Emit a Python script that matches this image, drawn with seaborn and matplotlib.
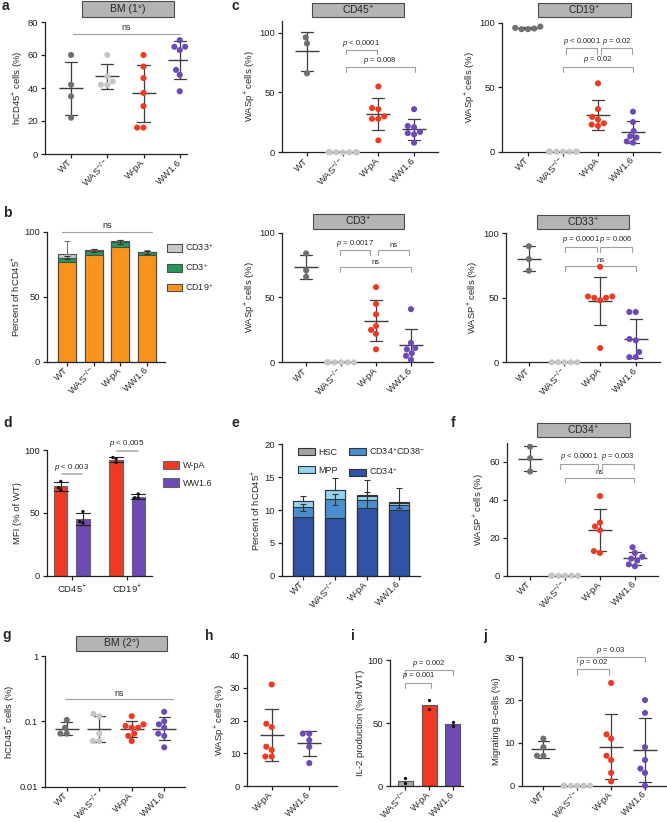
import warnings
import numpy as np
import pandas as pd
import matplotlib
matplotlib.use("Agg")
import matplotlib.pyplot as plt
from matplotlib.patches import Patch, Rectangle
from matplotlib.ticker import NullLocator
import seaborn as sns

warnings.filterwarnings("ignore")

W, H = 667, 822

# ---------------- data ----------------
groups = ["WT", "WAS", "W-pA", "WW1.6"]
group_ticks = ["WT", r"WAS$^{-/-}$", "W-pA", "WW1.6"]
palette = {"WT": "#6f6f6f", "WAS": "#c6c6c6", "W-pA": "#ee3a24", "WW1.6": "#6d4ab5"}

# a: hCD45+ cells in primary BM (%)
bm1 = {"WT": [60, 42, 35, 22],
       "WAS": [60, 47, 44, 42, 42],
       "W-pA": [60, 53, 46, 37, 29, 16, 16],
       "WW1.6": [69, 65, 65, 63, 51, 48, 38]}

# b: lineages, percent of hCD45+
lin_cd19 = [77, 82, 88, 82]
lin_cd3 = [3, 3.5, 4, 2]
lin_cd33 = [3, 0.6, 0.5, 0.6]
lin_err_up = [10, 0.8, 0.8, 1.5]
lin_err_mid = [1.2, 1.5, 1.3, 1.0]

# c: WASp+ cells (%) per subset
wasp_cd45 = {"WT": [96, 91, 66],
             "WAS": [0, 0, 0, 0, 0, 0, 0],
             "W-pA": [55, 37, 36, 30, 28, 28, 10],
             "WW1.6": [36, 22, 21, 17, 16, 15, 8]}
wasp_cd19 = {"WT": [97, 96, 95.5, 95, 95],
             "WAS": [0, 0, 0, 0, 0, 0, 0],
             "W-pA": [53, 33, 27, 25, 22, 21, 20],
             "WW1.6": [31, 23, 16, 12, 11, 8, 7]}
wasp_cd3 = {"WT": [84, 71, 66],
            "WAS": [0, 0, 0, 0, 0, 0],
            "W-pA": [58, 45, 37, 28, 25, 22, 10],
            "WW1.6": [41, 15, 11, 10, 7, 5, 2]}
wasp_cd33 = {"WT": [90, 80, 71],
             "WAS": [0, 0, 0, 0, 0],
             "W-pA": [74, 51, 50, 50, 51, 48, 11],
             "WW1.6": [39, 39, 18, 17, 8, 4, 4]}

# d: MFI (% of WT)
mfi_markers = ["CD45", "CD19"]
mfi_ticks = [r"CD45$^{+}$", r"CD19$^{+}$"]
mfi_wpa = {"CD45": [75, 68, 70], "CD19": [94, 93, 90]}
mfi_ww = {"CD45": [51, 43, 42], "CD19": [65, 62, 62]}

# e: progenitors, percent of hCD45+
prog_cd34 = [9.0, 8.8, 10.3, 10.0]
prog_cd38neg = [1.4, 2.8, 1.2, 0.7]
prog_mpp = [0.9, 1.4, 0.7, 0.4]
prog_hsc = [0.1, 0.1, 0.1, 0.1]
prog_err_up = [0.7, 1.7, 2.3, 2.1]
prog_err_mid = [0.5, 0.8, 1.2, 0.4]

# f: WASP+ in CD34+
wasp_cd34 = {"WT": [68, 62, 55],
             "WAS": [0, 0, 0, 0, 0, 0],
             "W-pA": [42, 28, 26, 24, 13, 12],
             "WW1.6": [15, 12, 10, 9, 8, 6, 5]}

# g: hCD45+ in secondary BM (%)
bm2 = {"WT": [0.105, 0.08, 0.065, 0.065],
       "WAS": [0.13, 0.12, 0.065, 0.05, 0.05],
       "W-pA": [0.12, 0.09, 0.085, 0.08, 0.08, 0.065, 0.06, 0.05],
       "WW1.6": [0.14, 0.1, 0.09, 0.08, 0.065, 0.06, 0.04]}

# h: WASp+ cells (%)
wasp_2nd = {"W-pA": [31, 19, 18, 12, 11, 9, 9],
            "WW1.6": [16, 16, 14, 12, 7]}

# i: IL-2 production (% of WT)
il2 = {"WAS": [6, 2.5], "W-pA": [68, 61], "WW1.6": [51, 48]}
il2_colors = {"WAS": "#a6a6a6", "W-pA": "#ee3a24", "WW1.6": "#6d4ab5"}

# j: migrating B-cells (%)
migration = {"WT": [11, 9, 7, 7],
             "WAS": [0, 0, 0, 0, 0, 0],
             "W-pA": [24, 12, 11, 7, 6, 3, 1],
             "WW1.6": [20, 17, 9, 6, 4, 3, 0]}

# ---------------- style ----------------
sns.set_style("ticks")
plt.rcParams["font.family"] = ["Liberation Sans", "DejaVu Sans"]
plt.rcParams.update({
    "mathtext.fontset": "custom",
    "mathtext.rm": "Liberation Sans",
    "mathtext.it": "Liberation Sans:italic",
    "mathtext.bf": "Liberation Sans:bold",
    "mathtext.default": "regular",
    "font.size": 6.5,
    "axes.linewidth": 0.9,
    "axes.edgecolor": "#222222",
    "xtick.major.width": 0.9, "ytick.major.width": 0.9,
    "xtick.major.size": 3, "ytick.major.size": 3,
    "xtick.labelsize": 6.8, "ytick.labelsize": 6.8,
    "axes.labelsize": 6.8,
    "xtick.major.pad": 2, "ytick.major.pad": 2,
    "xtick.color": "#222222", "ytick.color": "#222222",
})

fig = plt.figure(figsize=(W / 100, H / 100), dpi=100)


def add_ax(l, t, r, b):
    return fig.add_axes([l / W, 1 - b / H, (r - l) / W, (b - t) / H])


def long_df(d):
    rows = [(g, v) for g, vals in d.items() for v in vals]
    return pd.DataFrame(rows, columns=["group", "value"])


def finish(ax, ticklabels, ylim, yticks, ylabel, xlim, rot=45):
    ax.set_ylim(*ylim)
    ax.set_yticks(yticks)
    ax.set_xlim(*xlim)
    ax.set_xticks(range(len(ticklabels)))
    if rot:
        ax.set_xticklabels(ticklabels, rotation=rot, ha="right", va="center",
                           rotation_mode="anchor")
    else:
        ax.set_xticklabels(ticklabels)
    ax.set_xlabel("")
    ax.set_ylabel(ylabel, labelpad=2)
    sns.despine(ax=ax)


def dot_panel(ax, d, order, ticklabels, ylim, yticks, ylabel, xlim):
    df = long_df(d)
    sns.swarmplot(data=df, x="group", y="value", order=order, hue="group",
                  hue_order=order, palette=palette, size=4.4, legend=False,
                  ax=ax, warn_thresh=1.0)
    sns.pointplot(data=df, x="group", y="value", order=order, errorbar="sd",
                  capsize=0.34, color="#3d3d3d", markers="_", markersize=17,
                  markeredgewidth=1.0, linestyles="none",
                  err_kws={"linewidth": 0.9}, ax=ax)
    for coll in ax.collections:
        coll.set_clip_on(False)
    finish(ax, ticklabels, ylim, yticks, ylabel, xlim)


def bracket(ax, x1, x2, y, drop, label, fs=5.5):
    ax.plot([x1, x1, x2, x2], [y - drop, y, y, y - drop], color="#a0a0a0",
            lw=0.8, clip_on=False)
    ax.annotate(label, xy=((x1 + x2) / 2, y), xytext=(0, 1),
                textcoords="offset points", ha="center", va="bottom",
                fontsize=fs, annotation_clip=False)


def title_box(text, x0, x1, y0, y1):
    fig.add_artist(Rectangle((x0 / W, 1 - y1 / H), (x1 - x0) / W, (y1 - y0) / H,
                             transform=fig.transFigure, facecolor="#b4b4b4",
                             edgecolor="#4a4a4a", lw=0.8))
    fig.text((x0 + x1) / 2 / W, 1 - (y0 + y1) / 2 / H, text, ha="center",
             va="center", fontsize=7.5)


def letter(ch, x, y):
    fig.text(x / W, 1 - y / H, ch, fontsize=10, fontweight="bold", va="top", ha="left")


P_LT = r"$\mathit{p}$ < 0.0001"

# ---------------- a ----------------
ax_a = add_ax(45, 22, 187, 154)
dot_panel(ax_a, bm1, groups, group_ticks, (0, 80), [0, 20, 40, 60, 80],
          r"hCD45$^{+}$ cells (%)", (-0.72, 3.2))
bracket(ax_a, 0.05, 3.0, 73, 0, "ns", fs=6.5)
title_box("BM (1°)", 82, 174, 1, 17)

# ---------------- b ----------------
ax_b = add_ax(47, 231.7, 165, 361.7)
b19 = np.array(lin_cd19, dtype=float)
b3 = b19 + np.array(lin_cd3)
b33 = b3 + np.array(lin_cd33)
for vals, col in [(b33, "#c9c9c9"), (b3, "#23995a"), (b19, "#f7941e")]:
    sns.barplot(x=groups, y=vals, order=groups, color=col, width=0.68,
                saturation=1, edgecolor="#4d4d4d", linewidth=0.8,
                errorbar=None, ax=ax_b)
ax_b.errorbar(range(4), b33, yerr=[np.zeros(4), lin_err_up], fmt="none",
              ecolor="#777777", elinewidth=0.8, capsize=2.5, capthick=0.8)
ax_b.errorbar(range(4), b3, yerr=lin_err_mid, fmt="none",
              ecolor="#333333", elinewidth=0.8, capsize=2.5, capthick=0.8)
finish(ax_b, group_ticks, (0, 100), [0, 50, 100], r"Percent of hCD45$^{+}$",
       (-0.75, 3.67))
bracket(ax_b, -0.2, 3.2, 100, 0, "ns", fs=6.5)
ax_b.legend(handles=[Patch(facecolor=c, edgecolor="#4d4d4d", lw=0.8, label=l)
                     for c, l in [("#c9c9c9", r"CD33$^{+}$"),
                                  ("#23995a", r"CD3$^{+}$"),
                                  ("#f7941e", r"CD19$^{+}$")]],
            loc="upper left", bbox_to_anchor=(0.98, 0.96), frameon=False,
            fontsize=6.5, handlelength=1.6, handleheight=0.9, labelspacing=0.9,
            borderpad=0, handletextpad=0.4)

# ---------------- c ----------------
ax_c1 = add_ax(282, 20.7, 438, 152.3)
dot_panel(ax_c1, wasp_cd45, groups, group_ticks, (0, 110), [0, 50, 100],
          r"WASp$^{+}$ cells (%)", (-0.7, 3.67))
bracket(ax_c1, 1.08, 1.96, 85.5, 3.5, P_LT)
bracket(ax_c1, 1.08, 3.03, 71, 4, r"$\mathit{p}$ = 0.008")
title_box(r"CD45$^{+}$", 312, 404, 3, 17)

ax_c2 = add_ax(502, 22.7, 660, 151.7)
dot_panel(ax_c2, wasp_cd19, groups, group_ticks, (0, 100), [0, 50, 100],
          r"WASp$^{+}$ cells (%)", (-0.74, 3.77))
bracket(ax_c2, 1.1, 1.98, 80, 4, P_LT)
bracket(ax_c2, 2.08, 2.98, 80, 4, r"$\mathit{p}$ = 0.02")
bracket(ax_c2, 1.0, 3.0, 66, 4, r"$\mathit{p}$ = 0.02")
title_box(r"CD19$^{+}$", 538, 631, 3, 17)

ax_c3 = add_ax(282, 232.7, 433, 362.3)
dot_panel(ax_c3, wasp_cd3, groups, group_ticks, (0, 100), [0, 50, 100],
          r"WASp$^{+}$ cells (%)", (-0.69, 3.63))
bracket(ax_c3, 0.97, 1.83, 86.6, 4, r"$\mathit{p}$ = 0.0017")
bracket(ax_c3, 2.05, 2.93, 86.6, 4, "ns")
bracket(ax_c3, 0.97, 3.0, 73.3, 4, "ns")
title_box(r"CD3$^{+}$", 313, 404, 214, 229)

ax_c4 = add_ax(505.7, 233.3, 660, 362.3)
dot_panel(ax_c4, wasp_cd33, groups, group_ticks, (0, 100), [0, 50, 100],
          r"WASP$^{+}$ cells (%)", (-0.65, 3.68))
bracket(ax_c4, 1.02, 1.9, 89.6, 4, r"$\mathit{p}$ = 0.0001")
bracket(ax_c4, 2.0, 2.9, 89.6, 4, r"$\mathit{p}$ = 0.006")
bracket(ax_c4, 1.02, 3.0, 75, 4, "ns")
title_box(r"CD33$^{+}$", 537, 629, 215, 229)

# ---------------- d ----------------
ax_d = add_ax(47, 450, 152, 575.7)
rows = [(m, "W-pA", v) for m in mfi_markers for v in mfi_wpa[m]] + \
       [(m, "WW1.6", v) for m in mfi_markers for v in mfi_ww[m]]
df_d = pd.DataFrame(rows, columns=["marker", "vector", "value"])
sns.barplot(data=df_d, x="marker", y="value", hue="vector", order=mfi_markers,
            hue_order=["W-pA", "WW1.6"], palette=[palette["W-pA"], palette["WW1.6"]],
            errorbar="sd", capsize=0.5, gap=0.4, saturation=1, edgecolor="#666666",
            linewidth=0.8, err_kws={"linewidth": 0.8, "color": "#222222"},
            legend=False, ax=ax_d)
sns.swarmplot(data=df_d, x="marker", y="value", hue="vector", order=mfi_markers,
              hue_order=["W-pA", "WW1.6"], palette=["#111111", "#111111"],
              dodge=True, size=2.4, legend=False, ax=ax_d)
finish(ax_d, mfi_ticks, (0, 100), [0, 50, 100], "MFI (% of WT)", (-0.45, 1.45), rot=0)
ax_d.plot([-0.17, 0.18], [81, 81], color="#bdbdbd", lw=1.4, clip_on=False)
ax_d.text(0, 82, r"$\mathit{p}$ < 0.003", ha="center", va="bottom", fontsize=5.8)
ax_d.plot([0.81, 1.2], [99.5, 99.5], color="#bdbdbd", lw=1.4, clip_on=False)
ax_d.text(1, 100.5, r"$\mathit{p}$ < 0.005", ha="center", va="bottom", fontsize=5.8)
ax_d.legend(handles=[Patch(facecolor=palette["W-pA"], edgecolor="#666666", lw=0.8, label="W-pA"),
                     Patch(facecolor=palette["WW1.6"], edgecolor="#666666", lw=0.8, label="WW1.6")],
            loc="upper left", bbox_to_anchor=(1.06, 0.95), frameon=False,
            fontsize=6.5, handlelength=1.8, handleheight=1.1, labelspacing=0.9,
            borderpad=0, handletextpad=0.4)

# ---------------- e ----------------
ax_e = add_ax(282, 444.3, 420, 575.7)
e1 = np.array(prog_cd34, dtype=float)
e2 = e1 + np.array(prog_cd38neg)
e3 = e2 + np.array(prog_mpp)
e4 = e3 + np.array(prog_hsc)
e_cols = {"HSC": "#a3a3a3", "MPP": "#92d4f2", "CD38": "#4a8ed0", "CD34": "#3053a8"}
for vals, col in [(e4, e_cols["HSC"]), (e3, e_cols["MPP"]), (e2, e_cols["CD38"]),
                  (e1, e_cols["CD34"])]:
    sns.barplot(x=groups, y=vals, order=groups, color=col, width=0.62,
                saturation=1, edgecolor="#333333", linewidth=0.8,
                errorbar=None, ax=ax_e)
ax_e.errorbar(range(4), e4, yerr=[np.zeros(4), prog_err_up], fmt="none",
              ecolor="#333333", elinewidth=0.8, capsize=2.5, capthick=0.8)
ax_e.errorbar(range(4), e2, yerr=prog_err_mid, fmt="none",
              ecolor="#333333", elinewidth=0.8, capsize=2.5, capthick=0.8)
finish(ax_e, group_ticks, (0, 20), [0, 5, 10, 15, 20], r"Percent of hCD45$^{+}$",
       (-0.65, 3.66))
ax_e.legend(handles=[Patch(facecolor=e_cols["HSC"], edgecolor="#333333", lw=0.8, label="HSC"),
                     Patch(facecolor=e_cols["MPP"], edgecolor="#333333", lw=0.8, label="MPP"),
                     Patch(facecolor=e_cols["CD38"], edgecolor="#333333", lw=0.8,
                           label=r"CD34$^{+}$CD38$^{-}$"),
                     Patch(facecolor=e_cols["CD34"], edgecolor="#333333", lw=0.8,
                           label=r"CD34$^{+}$")],
            ncol=2, loc="upper left", bbox_to_anchor=(0.08, 1.03), frameon=False,
            fontsize=6.5, handlelength=1.9, handleheight=0.8, columnspacing=1.2,
            labelspacing=1.0, borderpad=0, handletextpad=0.4)

# ---------------- f ----------------
ax_f = add_ax(506.7, 443, 658, 575.7)
dot_panel(ax_f, wasp_cd34, groups, group_ticks, (0, 70), [0, 20, 40, 60],
          r"WASP$^{+}$ cells (%)", (-0.67, 3.66))
bracket(ax_f, 0.86, 1.95, 59, 2.6, P_LT)
bracket(ax_f, 2.07, 2.97, 59, 2.6, r"$\mathit{p}$ = 0.003")
bracket(ax_f, 1.0, 2.97, 51.8, 2.6, "ns")
title_box(r"CD34$^{+}$", 537, 630, 422.7, 437.3)

# ---------------- g ----------------
ax_g = add_ax(45, 656, 185, 786.7)
ax_g.set_yscale("log")
dot_panel(ax_g, bm2, groups, group_ticks, (0.01, 1), [0.01, 0.1, 1],
          r"hCD45$^{+}$ cells (%)", (-0.67, 3.64))
ax_g.yaxis.set_minor_locator(NullLocator())
ax_g.set_yticklabels(["0.01", "0.1", "1"])
ax_g.plot([-0.05, 3.27], [0.217, 0.217], color="#a0a0a0", lw=0.8)
ax_g.text(1.6, 0.23, "ns", ha="center", va="bottom", fontsize=6.5)
title_box("BM (2°)", 76, 167, 636, 650.7)

# ---------------- h ----------------
ax_h = add_ax(247.3, 655, 336.7, 786)
dot_panel(ax_h, wasp_2nd, ["W-pA", "WW1.6"], ["W-pA", "WW1.6"], (0, 40),
          [0, 10, 20, 30, 40], r"WASp$^{+}$ cells (%)", (-0.65, 1.73))

# ---------------- i ----------------
ax_i = add_ax(390, 660, 463, 786)
df_i = long_df(il2)
i_order = ["WAS", "W-pA", "WW1.6"]
sns.barplot(data=df_i, x="group", y="value", order=i_order, hue="group",
            hue_order=i_order, palette=il2_colors, errorbar=None, width=0.63,
            saturation=1, edgecolor="#555555", linewidth=0.8, legend=False, ax=ax_i)
sns.swarmplot(data=df_i, x="group", y="value", order=i_order, color="#111111",
              size=2.4, ax=ax_i)
finish(ax_i, [r"WAS$^{-/-}$", "W-pA", "WW1.6"], (0, 100), [0, 50, 100],
       "IL-2 production (%of WT)", (-0.65, 2.43))
bracket(ax_i, 0, 1.1, 82, 4.4, r"$\mathit{p}$ = 0.001")
bracket(ax_i, 0, 2, 92, 4, r"$\mathit{p}$ = 0.002")

# ---------------- j ----------------
ax_j = add_ax(521.7, 657.3, 666, 785.7)
dot_panel(ax_j, migration, groups, group_ticks, (0, 30), [0, 10, 20, 30],
          "Migrating B-cells (%)", (-0.64, 3.62))
bracket(ax_j, 1.0, 1.95, 27.2, 1.4, r"$\mathit{p}$ = 0.02")
bracket(ax_j, 1.0, 3.0, 30.0, 1.2, r"$\mathit{p}$ = 0.03")

# ---------------- panel letters ----------------
letter("a", 2, -1)
letter("b", 3, 206)
letter("c", 231, -1)
letter("d", 3, 416)
letter("e", 231, 416)
letter("f", 451, 416)
letter("g", 2, 628)
letter("h", 205, 629)
letter("i", 351, 629)
letter("j", 483, 629)

fig.savefig("out.png", dpi=100)
